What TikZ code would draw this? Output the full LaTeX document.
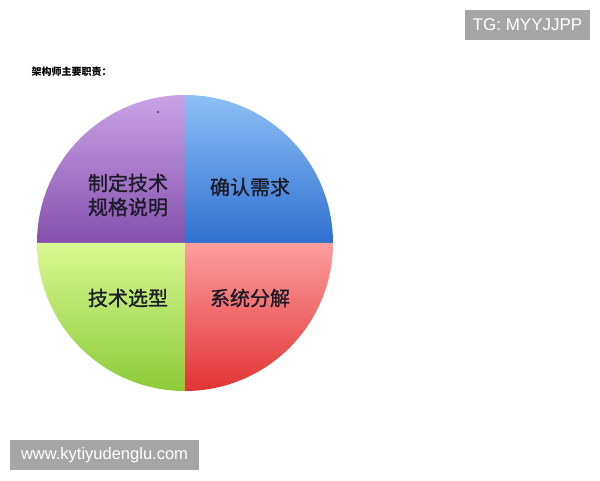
\documentclass[tikz,border=0pt]{standalone}
\usepackage{fontspec}
\setmainfont{Liberation Sans}
\newfontfamily\cjk{Noto Sans CJK SC}
\newfontfamily\cjkmid[FakeBold=1.2]{Noto Sans CJK SC}
\definecolor{purpleTop}{HTML}{C9A3E6}
\definecolor{purpleBot}{HTML}{8550AE}
\definecolor{blueTop}{HTML}{8EC0F6}
\definecolor{blueBot}{HTML}{2F6FD0}
\definecolor{greenTop}{HTML}{DAF892}
\definecolor{greenBot}{HTML}{8CCB38}
\definecolor{redTop}{HTML}{FF9E9E}
\definecolor{redBot}{HTML}{E03434}
\definecolor{markGray}{HTML}{A6A6A6}
\definecolor{labelInk}{HTML}{1C1C28}
\tikzset{
    quadlabel/.style={font=\cjkmid\fontsize{20}{24}\selectfont,text=labelInk,align=center,inner sep=0pt},
    watermark/.style={fill=markGray,text=white,inner sep=0pt}
}
\begin{document}
\begin{tikzpicture}[x=1pt,y=1pt]
        \useasboundingbox[fill=white] (0,0) rectangle (600,480);
        %% title
        \node[anchor=west,font=\cjk\bfseries\fontsize{10}{12}\selectfont] (title) at (28,408) {架构师主要职责：};
        %% pie
        \coordinate (c) at (185,237);
        \shade[top color=purpleTop,bottom color=purpleBot] (c) -- ++(90:148) arc (90:180:148) -- cycle;
        \shade[top color=blueTop,bottom color=blueBot] (c) -- ++(0:148) arc (0:90:148) -- cycle;
        \shade[top color=greenTop,bottom color=greenBot] (c) -- ++(180:148) arc (180:270:148) -- cycle;
        \shade[top color=redTop,bottom color=redBot] (c) -- ++(270:148) arc (270:360:148) -- cycle;
        \fill[black] (158,368) circle (0.8);
        %% labels
        \node[quadlabel] (spec) at (128,285) {制定技术\\规格说明};
        \node[quadlabel] (req) at (250,293) {确认需求};
        \node[quadlabel] (tech) at (128,182) {技术选型};
        \node[quadlabel] (split) at (250,182) {系统分解};
        %% watermarks
        \node[watermark,minimum width=125,minimum height=30,font=\fontsize{17}{20}\selectfont] (tg) at (527.5,455) {TG: MYYJJPP};
        \node[watermark,minimum width=189,minimum height=30,font=\fontsize{16.5}{20}\selectfont] (site) at (104.5,25) {www.kytiyudenglu.com};
    \end{tikzpicture}
\end{document}
